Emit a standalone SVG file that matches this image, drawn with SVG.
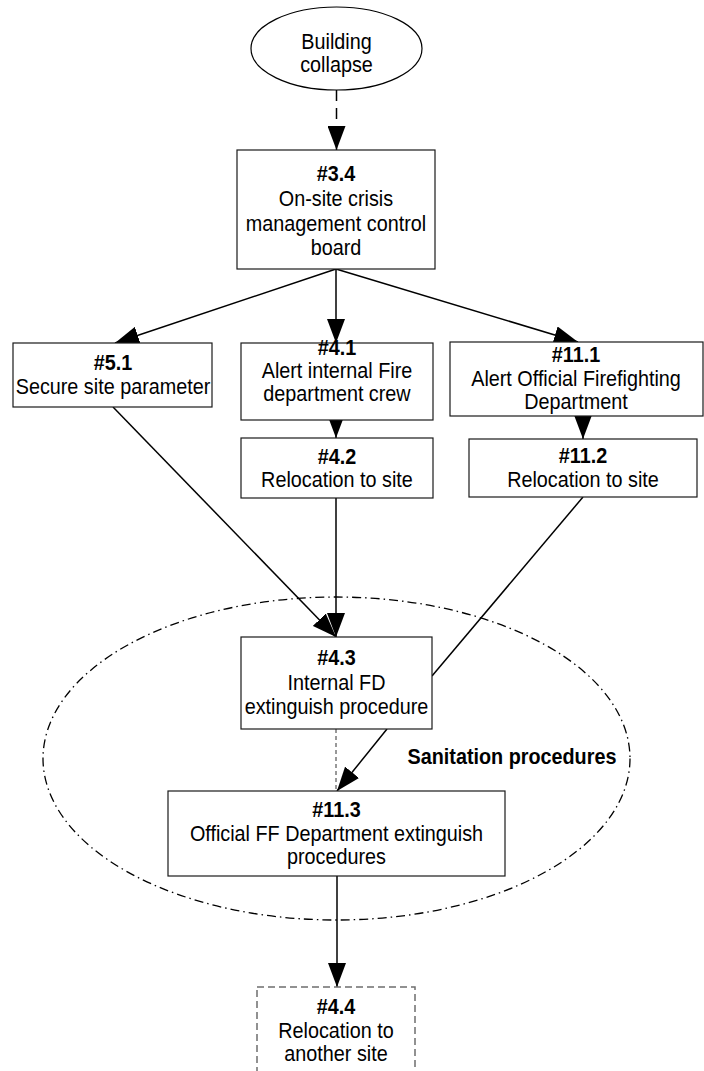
<svg xmlns="http://www.w3.org/2000/svg" width="704" height="1071" viewBox="0 0 704 1071">
<style>
  .box{fill:#fff;stroke:#1a1a1a;stroke-width:1.2}
  .t{font-family:"Liberation Sans",Arial,sans-serif;font-size:22px;fill:#000;text-anchor:middle}
  .b{font-weight:bold}
  .c{fill:none;stroke:#000;stroke-width:1.5}
</style>
<defs>
  <marker id="ah" markerUnits="userSpaceOnUse" markerWidth="24" markerHeight="18" refX="24" refY="9" orient="auto" viewBox="0 0 24 18">
    <path d="M0,0 L24,9 L0,18 z" fill="#000"/>
  </marker>
</defs>
<rect width="704" height="1071" fill="#fff"/>

<g id="sanitation">
  <ellipse cx="336.5" cy="758.5" rx="293.5" ry="161.5" fill="none" stroke="#000" stroke-width="1.3" stroke-dasharray="9 4 1.5 4"/>
  <g transform="matrix(0.9 0 0 1 51.2 0)">
    <text class="t b" x="512" y="764">Sanitation procedures</text>
  </g>
</g>

<g id="connectors">
  <line class="c" x1="336.5" y1="90" x2="336.5" y2="150" stroke-dasharray="11 7" marker-end="url(#ah)"/>
  <line class="c" x1="336" y1="269" x2="115" y2="343" marker-end="url(#ah)"/>
  <line class="c" x1="336" y1="269" x2="336" y2="343" marker-end="url(#ah)"/>
  <line class="c" x1="336" y1="269" x2="578" y2="342" marker-end="url(#ah)"/>
  <line class="c" x1="336" y1="420" x2="336" y2="438" marker-end="url(#ah)"/>
  <line class="c" x1="583" y1="416" x2="583" y2="439" marker-end="url(#ah)"/>
  <line class="c" x1="113" y1="407" x2="336" y2="637" marker-end="url(#ah)"/>
  <line class="c" x1="336" y1="498" x2="336" y2="637" marker-end="url(#ah)"/>
  <line class="c" x1="583" y1="497" x2="432" y2="676"/>
  <line x1="336" y1="729" x2="336" y2="791" fill="none" stroke="#333" stroke-width="1" stroke-dasharray="4 3"/>
  <line class="c" x1="387" y1="729" x2="337" y2="791" marker-end="url(#ah)"/>
  <line class="c" x1="337" y1="876" x2="337" y2="987" marker-end="url(#ah)"/>
</g>

<g id="n-building-collapse">
  <ellipse cx="336.5" cy="48.5" rx="85.5" ry="41.5" fill="#fff" stroke="#000" stroke-width="1.2"/>
  <g transform="matrix(0.9 0 0 1 33.65 0)">
    <text class="t" x="336.5" y="49">Building</text>
    <text class="t" x="336.5" y="72">collapse</text>
  </g>
</g>

<g id="n-3-4">
  <rect class="box" x="237" y="150" width="198" height="119"/>
  <g transform="matrix(0.9 0 0 1 33.6 0)">
    <text class="t b" x="336" y="181">#3.4</text>
    <text class="t" x="336" y="206">On-site crisis</text>
    <text class="t" x="336" y="231">management control</text>
    <text class="t" x="336" y="255">board</text>
  </g>
</g>

<g id="n-5-1">
  <rect class="box" x="13" y="343" width="199" height="64"/>
  <g transform="matrix(0.9 0 0 1 11.3 0)">
    <text class="t b" x="113" y="370">#5.1</text>
    <text class="t" x="113" y="394">Secure site parameter</text>
  </g>
</g>

<g id="n-4-1">
  <rect class="box" x="241" y="343" width="192" height="77"/>
  <g transform="matrix(0.9 0 0 1 33.7 0)">
    <text class="t b" x="337" y="355">#4.1</text>
    <text class="t" x="337" y="378">Alert internal Fire</text>
    <text class="t" x="337" y="401">department crew</text>
  </g>
</g>

<g id="n-11-1">
  <rect class="box" x="450" y="342" width="253" height="74"/>
  <g transform="matrix(0.9 0 0 1 57.6 0)">
    <text class="t b" x="576" y="362">#11.1</text>
    <text class="t" x="576" y="386">Alert Official Firefighting</text>
    <text class="t" x="576" y="409">Department</text>
  </g>
</g>

<g id="n-4-2">
  <rect class="box" x="241" y="438" width="192" height="60"/>
  <g transform="matrix(0.9 0 0 1 33.7 0)">
    <text class="t b" x="337" y="464">#4.2</text>
    <text class="t" x="337" y="487">Relocation to site</text>
  </g>
</g>

<g id="n-11-2">
  <rect class="box" x="469" y="439" width="228" height="58"/>
  <g transform="matrix(0.9 0 0 1 58.3 0)">
    <text class="t b" x="583" y="463">#11.2</text>
    <text class="t" x="583" y="487">Relocation to site</text>
  </g>
</g>

<g id="n-4-3">
  <rect class="box" x="241" y="637" width="191" height="92"/>
  <g transform="matrix(0.9 0 0 1 33.65 0)">
    <text class="t b" x="336.5" y="665">#4.3</text>
    <text class="t" x="336.5" y="690">Internal FD</text>
    <text class="t" x="336.5" y="714">extinguish procedure</text>
  </g>
</g>

<g id="n-11-3">
  <rect class="box" x="168" y="791" width="337" height="85"/>
  <g transform="matrix(0.9 0 0 1 33.65 0)">
    <text class="t b" x="336.5" y="817">#11.3</text>
    <text class="t" x="336.5" y="841">Official FF Department extinguish</text>
    <text class="t" x="336.5" y="864">procedures</text>
  </g>
</g>

<g id="n-4-4">
  <rect x="257" y="987" width="158" height="100" fill="#fff" stroke="#6e6e6e" stroke-width="1.5" stroke-dasharray="7 4"/>
  <g transform="matrix(0.9 0 0 1 33.6 0)">
    <text class="t b" x="336" y="1014">#4.4</text>
    <text class="t" x="336" y="1038">Relocation to</text>
    <text class="t" x="336" y="1061">another site</text>
  </g>
</g>
</svg>
